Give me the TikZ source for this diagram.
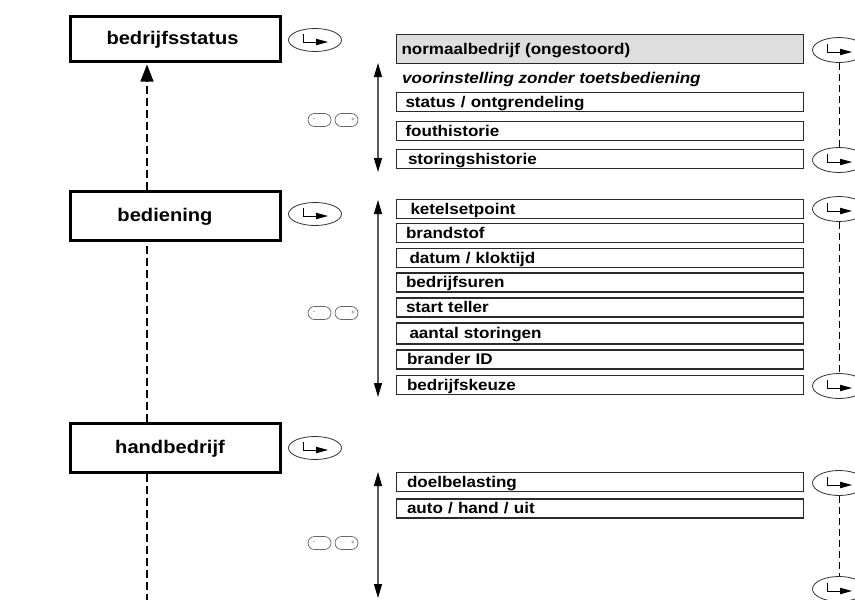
\documentclass[tikz,border=0pt]{standalone}
\usepackage{fontspec}
\setmainfont[FakeStretch=1.1]{Liberation Sans}
\usetikzlibrary{arrows.meta,shapes.geometric}
\definecolor{boxgray}{HTML}{DEDEDE}
\definecolor{edge}{HTML}{2A2A2A}
\tikzset{
  mainbox/.style={draw=black, line width=3pt, minimum width=210pt, inner sep=0pt},
  mainlbl/.style={font=\fontsize{18.3}{20}\selectfont\bfseries, inner sep=0pt, text height=13pt, text depth=4pt},
  rbox/.style={draw=edge, line width=1.1pt, minimum height=19pt, text width=397pt,
    inner xsep=5pt, inner ysep=0pt, align=left, text height=12pt, text depth=2pt,
    font=\fontsize{15.5}{17}\selectfont\bfseries},
  enterkey/.style={draw=black!80, line width=0.8pt, ellipse, minimum width=53pt, minimum height=23pt, inner sep=0pt},
  pmkey/.style={draw=black!60, line width=0.7pt, rounded corners=6.5pt, minimum width=23pt, minimum height=13pt, inner sep=0pt},
  pmsign/.style={font=\fontsize{6}{6}\selectfont, inner sep=0pt, text=black!70},
  ldash/.style={line width=1.2pt, dash pattern=on 8pt off 4pt},
  rdash/.style={line width=0.9pt, dash pattern=on 7pt off 4pt},
  dblarrow/.style={draw=black!65, line width=1.1pt, {Triangle[length=14pt,width=8pt,black]}-{Triangle[length=14pt,width=8pt,black]}},
}
% L-shaped enter symbol inside an ellipse node (shifts are in canvas units, y up)
\newcommand{\entersym}[1]{%
  \draw[line width=0.9pt] ([shift={(-12pt,6pt)}]#1.center) -- ([shift={(-12pt,-2pt)}]#1.center) -- ([shift={(3pt,-2pt)}]#1.center);
  \fill ([shift={(1pt,1.3pt)}]#1.center) -- ([shift={(13pt,-2pt)}]#1.center) -- ([shift={(1pt,-5.3pt)}]#1.center) -- cycle;
}
\begin{document}
\begin{tikzpicture}[x=1pt,y=-1pt]
\useasboundingbox (0,0) rectangle (855,600);

% ---------- left column ----------
\coordinate (lx) at (147,0);
\node[mainbox, minimum height=45pt] (status) at (175.5,39) {};
\node[mainlbl] (statusT) at (172.5,40) {bedrijfsstatus};
\node[mainbox, minimum height=49pt] (bed) at (175.5,216) {};
\node[mainlbl] (bedT) at (165,216.5) {bediening};
\node[mainbox, minimum height=49pt] (hand) at (175.5,447.5) {};
\node[mainlbl] (handT) at (170,448.5) {handbedrijf};
\coordinate (bottomend) at (147,600);

\draw[ldash, -{Triangle[length=17pt,width=13pt]}] (bed.north -| lx) -- ([yshift=-1.5pt]status.south -| lx);
\draw[ldash] (hand.north -| lx) -- (bed.south -| lx);
\draw[ldash] (hand.south -| lx) -- (bottomend);

% enter keys next to main boxes
\node[enterkey] (k1) at (315,40) {}; \entersym{k1}
\node[enterkey] (k2) at (315,214) {}; \entersym{k2}
\node[enterkey] (k3) at (315,448) {}; \entersym{k3}

% minus / plus keys
\foreach \n/\y in {1/120,2/313,3/543}{
  \node[pmkey] (m\n) at (319.5,\y) {};
  \node[pmkey] (p\n) at (346.5,\y) {};
  \node[pmsign] (ms\n) at (314,\y) {-};
  \node[pmsign] (ps\n) at (353,\y) {+};
}

% ---------- double arrows ----------
\coordinate (a1t) at (378,63);  \coordinate (a1b) at (378,172);
\coordinate (a2t) at (378,200); \coordinate (a2b) at (378,397);
\coordinate (a3t) at (378,472); \coordinate (a3b) at (378,598);
\draw[dblarrow] (a1t) -- (a1b);
\draw[dblarrow] (a2t) -- (a2b);
\draw[dblarrow] (a3t) -- (a3b);

% ---------- right boxes ----------
\node[rbox, fill=boxgray, minimum height=29pt] (r1) at (600,49) {normaalbedrijf (ongestoord)};
\node[font=\fontsize{15.5}{17}\selectfont\bfseries\itshape, anchor=west, inner sep=0pt, text height=12pt, text depth=2pt] (voor) at (402,78) {voorinstelling zonder toetsbediening};
\node[rbox] (r2) at (600,102) {\hspace*{4pt}status / ontgrendeling};
\node[rbox] (r3) at (600,131) {\hspace*{4pt}fouthistorie};
\node[rbox] (r4) at (600,159) {\hspace*{6.5pt}storingshistorie};

\node[rbox] (s1) at (600,209) {\hspace*{9pt}ketelsetpoint};
\node[rbox] (s2) at (600,233) {\hspace*{4.5pt}brandstof};
\node[rbox] (s3) at (600,258) {\hspace*{8pt}datum / kloktijd};
\node[rbox] (s4) at (600,282.5) {\hspace*{4.5pt}bedrijfsuren};
\node[rbox] (s5) at (600,307.5) {\hspace*{4.5pt}start teller};
\node[rbox, minimum height=21pt] (s6) at (600,333.5) {\hspace*{8pt}aantal storingen};
\node[rbox] (s7) at (600,359.5) {\hspace*{5.5pt}brander ID};
\node[rbox] (s8) at (600,385) {\hspace*{5.5pt}bedrijfskeuze};

\node[rbox] (t1) at (600,482) {\hspace*{5.5pt}doelbelasting};
\node[rbox] (t2) at (600,508.5) {\hspace*{5.5pt}auto / hand / uit};

% ---------- right enter keys ----------
\node[enterkey, minimum height=25pt] (e1) at (839,50) {}; \entersym{e1}
\node[enterkey, minimum height=25pt] (e2) at (839,160) {}; \entersym{e2}
\node[enterkey, minimum height=25pt] (e3) at (839,209) {}; \entersym{e3}
\node[enterkey, minimum height=25pt] (e4) at (839,386) {}; \entersym{e4}
\node[enterkey, minimum height=25pt] (e5) at (839,483) {}; \entersym{e5}
\node[enterkey, minimum height=25pt] (e6) at (839,589) {}; \entersym{e6}
\draw[rdash] (e1.south) -- (e2.north);
\draw[rdash] (e3.south) -- (e4.north);
\draw[rdash] (e5.south) -- (e6.north);
\end{tikzpicture}
\end{document}
